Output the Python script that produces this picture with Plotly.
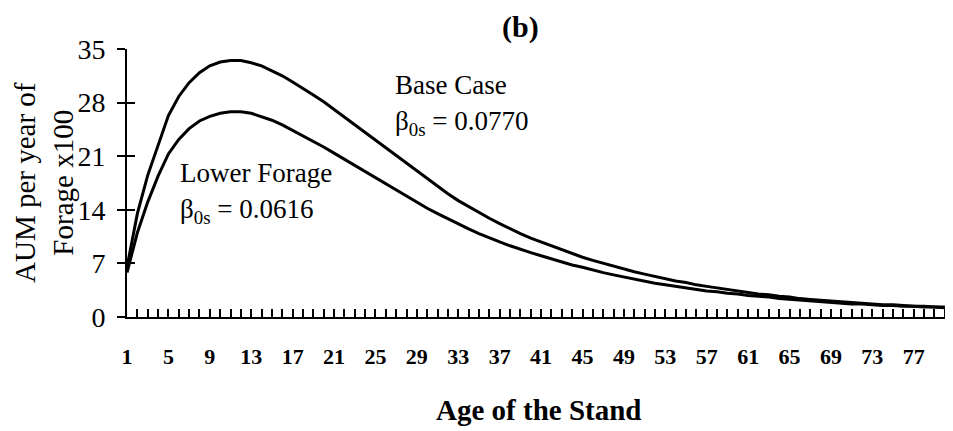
import plotly.graph_objects as go

years = list(range(1, 81))

base_case = [
    6.5, 13.5, 18.5, 22.5, 26.3, 28.8, 30.6, 31.9, 32.8, 33.3,
    33.5, 33.5, 33.2, 32.8, 32.2, 31.5, 30.7, 29.9, 29.0, 28.1,
    27.1, 26.1, 25.1, 24.0, 23.0, 22.0, 21.0, 20.0, 19.0, 18.0,
    17.0, 16.1, 15.2, 14.4, 13.6, 12.9, 12.2, 11.5, 10.9, 10.3,
    9.8, 9.2, 8.7, 8.2, 7.8, 7.4, 7.0, 6.6, 6.3, 5.9,
    5.6, 5.3, 5.0, 4.7, 4.5, 4.2, 4.0, 3.8, 3.6, 3.4,
    3.2, 3.0, 2.9, 2.7, 2.6, 2.4, 2.3, 2.2, 2.1, 2.0,
    1.9, 1.8, 1.7, 1.6, 1.6, 1.5, 1.4, 1.4, 1.3, 1.3,
]

lower_forage = [
    5.8, 11.0, 15.0, 18.4, 21.3, 23.2, 24.6, 25.6, 26.2, 26.6,
    26.8, 26.8, 26.6, 26.2, 25.7, 25.1, 24.4, 23.7, 23.0, 22.2,
    21.4, 20.6, 19.8, 19.0, 18.2, 17.4, 16.6, 15.7, 15.0, 14.2,
    13.5, 12.8, 12.1, 11.5, 10.9, 10.3, 9.8, 9.3, 8.8, 8.4,
    8.0, 7.6, 7.2, 6.8, 6.5, 6.1, 5.8, 5.5, 5.2, 4.9,
    4.7, 4.4, 4.2, 4.0, 3.8, 3.6, 3.4, 3.3, 3.1, 3.0,
    2.8, 2.7, 2.6, 2.4, 2.3, 2.2, 2.1, 2.0, 1.9, 1.8,
    1.7, 1.7, 1.6, 1.5, 1.5, 1.4, 1.4, 1.3, 1.3, 1.2,
]

x_tick_labels = list(range(1, 81, 4))
y_tick_values = [0, 7, 14, 21, 28, 35]

FONT = "Liberation Serif, serif"

# page body has an 8px margin; figure sits at (8, 8)
OFF = 8
W, H = 953 - OFF, 431 - OFF
PL, PR, PT, PB = 127, 950, 49, 317  # plot area in page pixels
L = PL - OFF
T = PT - OFF
R = W - (PR - OFF)
B = H - (PB - OFF)

fig = go.Figure()
fig.add_trace(go.Scatter(x=years, y=base_case, mode="lines",
                         line=dict(color="black", width=3), name="Base Case"))
fig.add_trace(go.Scatter(x=years, y=lower_forage, mode="lines",
                         line=dict(color="black", width=3), name="Lower Forage"))
fig.add_trace(go.Scatter(x=[years[0]], y=[0], yaxis="y2", mode="markers",
                         marker=dict(opacity=0), showlegend=False, hoverinfo="skip"))

fig.update_layout(
    width=W, height=H,
    margin=dict(l=L, r=R, t=T, b=B, pad=0),
    paper_bgcolor="white", plot_bgcolor="white",
    showlegend=False,
    font=dict(family=FONT, color="black"),
    xaxis=dict(
        range=[1, 80.5], showgrid=False, zeroline=False,
        showline=True, linecolor="black", linewidth=2,
        tickmode="array", tickvals=x_tick_labels,
        ticktext=[f"<b>{v}</b>" for v in x_tick_labels],
        ticks="inside", ticklen=8, tickwidth=1.5, tickcolor="black",
        minor=dict(ticks="inside", tickmode="linear", tick0=1, dtick=1,
                   ticklen=8, tickwidth=1.5, tickcolor="black"),
        tickfont=dict(family=FONT, size=22, color="black"),
        ticklabelstandoff=19,
    ),
    yaxis=dict(
        range=[0, 35], showgrid=False, zeroline=False,
        showline=True, linecolor="black", linewidth=2,
        tickmode="array", tickvals=y_tick_values,
        ticks="outside", ticklen=8, tickwidth=1.5, tickcolor="black",
        tickfont=dict(family=FONT, size=28, color="black"),
        ticklabelstandoff=6,
    ),
    yaxis2=dict(
        range=[0, 35], overlaying="y", side="left", anchor="x",
        showgrid=False, zeroline=False, showline=False,
        tickmode="array", tickvals=y_tick_values, showticklabels=False,
        ticks="inside", ticklen=8, tickwidth=1.5, tickcolor="black",
    ),
)

def px_x(p):
    return (p - PL) / (PR - PL)

def px_y(p):
    return (PB - p) / (PB - PT)

annos = [
    dict(text="<b>(b)</b>", x=px_x(520), y=px_y(27), xanchor="center", yanchor="middle", size=30),
    dict(text="Base Case", x=px_x(393), y=px_y(85), xanchor="left", yanchor="middle", size=27),
    dict(text="β<sub>0s</sub> = 0.0770", x=px_x(393), y=px_y(123), xanchor="left", yanchor="middle", size=27),
    dict(text="Lower Forage", x=px_x(178), y=px_y(173), xanchor="left", yanchor="middle", size=27),
    dict(text="β<sub>0s</sub> = 0.0616", x=px_x(178), y=px_y(211), xanchor="left", yanchor="middle", size=27),
    dict(text="<b>Age of the Stand</b>", x=px_x(538), y=px_y(410), xanchor="center", yanchor="middle", size=29),
    dict(text="AUM per year of<br>Forage x100", x=px_x(44), y=px_y(183), xanchor="center", yanchor="middle",
         textangle=-90, size=29),
]
out = []
for a in annos:
    size = a.pop("size")
    a.update(xref="paper", yref="paper", showarrow=False,
             font=dict(family=FONT, color="black", size=size))
    out.append(a)
fig.update_layout(annotations=out)

fig.write_html("out.html")
